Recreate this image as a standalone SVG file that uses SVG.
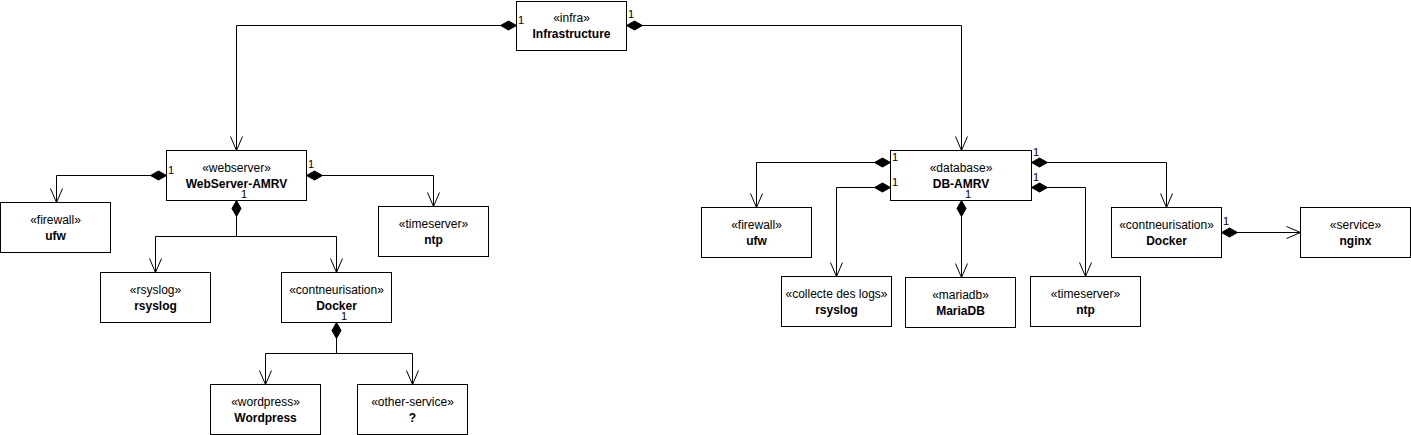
<svg xmlns="http://www.w3.org/2000/svg" width="1411" height="435" viewBox="0 0 1411 435">
<style>
.box{fill:#fff;stroke:#000;stroke-width:1}
.st{font-family:"Liberation Sans",Arial,sans-serif;font-size:12px;text-anchor:middle;fill:#000}
.nm{font-family:"Liberation Sans",Arial,sans-serif;font-size:12px;font-weight:bold;text-anchor:middle;fill:#000}
.m{font-family:"Liberation Sans",Arial,sans-serif;font-size:11px;fill:#000}
.c{fill:none;stroke:#000;stroke-width:1}
</style>
<defs>
<marker id="dia" markerUnits="userSpaceOnUse" markerWidth="20" markerHeight="12" viewBox="-1 -6 20 12" refX="0" refY="0" orient="auto" overflow="visible">
<path d="M0,0 L8,-4.5 L16,0 L8,4.5 Z" fill="#000" stroke="#000"/>
</marker>
<marker id="arr" markerUnits="userSpaceOnUse" markerWidth="20" markerHeight="16" viewBox="-16 -8 20 16" refX="0" refY="0" orient="auto" overflow="visible">
<path d="M-14,-6 L0,0 L-14,6" fill="none" stroke="#000"/>
</marker>
</defs>
<rect width="1411" height="435" fill="#fff"/>
<g id="connectors">
<path class="c" d="M516.5,25.5 H236.5 V150.5" marker-start="url(#dia)" marker-end="url(#arr)"/>
<path class="c" d="M626.5,25.5 H961.5 V150.5" marker-start="url(#dia)" marker-end="url(#arr)"/>
<path class="c" d="M166.5,175.5 H56.5 V202.5" marker-start="url(#dia)" marker-end="url(#arr)"/>
<path class="c" d="M306.5,175.5 H433.5 V206.5" marker-start="url(#dia)" marker-end="url(#arr)"/>
<path class="c" d="M236.5,200.5 V236.5 H155.5 V272.5" marker-start="url(#dia)" marker-end="url(#arr)"/>
<path class="c" d="M236.5,200.5 V236.5 H336.5 V272.5" marker-end="url(#arr)"/>
<path class="c" d="M336.5,322.5 V353.5 H265.5 V384.5" marker-start="url(#dia)" marker-end="url(#arr)"/>
<path class="c" d="M336.5,322.5 V353.5 H412.5 V384.5" marker-end="url(#arr)"/>
<path class="c" d="M890.5,162.5 H756.5 V207.5" marker-start="url(#dia)" marker-end="url(#arr)"/>
<path class="c" d="M890.5,187.5 H836.5 V276.5" marker-start="url(#dia)" marker-end="url(#arr)"/>
<path class="c" d="M961.5,200.5 V277.5" marker-start="url(#dia)" marker-end="url(#arr)"/>
<path class="c" d="M1031.5,162.5 H1166.5 V207.5" marker-start="url(#dia)" marker-end="url(#arr)"/>
<path class="c" d="M1031.5,187.5 H1085.5 V276.5" marker-start="url(#dia)" marker-end="url(#arr)"/>
<path class="c" d="M1221.5,232.5 H1300.5" marker-start="url(#dia)" marker-end="url(#arr)"/>
</g>
<g id="infra"><rect class="box" x="516.5" y="1.5" width="110" height="49"/><text class="st" x="571.5" y="22">«infra»</text><text class="nm" x="571.5" y="38">Infrastructure</text></g>
<g id="webserver"><rect class="box" x="166.5" y="150.5" width="140" height="50"/><text class="st" x="236.5" y="172">«webserver»</text><text class="nm" x="236.5" y="188">WebServer-AMRV</text></g>
<g id="ws-ufw"><rect class="box" x="0.5" y="202.5" width="110" height="50"/><text class="st" x="55.5" y="224">«firewall»</text><text class="nm" x="55.5" y="240">ufw</text></g>
<g id="ws-ntp"><rect class="box" x="378.5" y="206.5" width="110" height="50"/><text class="st" x="433.5" y="228">«timeserver»</text><text class="nm" x="433.5" y="244">ntp</text></g>
<g id="ws-rsyslog"><rect class="box" x="100.5" y="272.5" width="110" height="50"/><text class="st" x="155.5" y="294">«rsyslog»</text><text class="nm" x="155.5" y="310">rsyslog</text></g>
<g id="ws-docker"><rect class="box" x="281.5" y="272.5" width="110" height="50"/><text class="st" x="336.5" y="294">«contneurisation»</text><text class="nm" x="336.5" y="310">Docker</text></g>
<g id="wordpress"><rect class="box" x="210.5" y="384.5" width="110" height="50"/><text class="st" x="265.5" y="406">«wordpress»</text><text class="nm" x="265.5" y="422">Wordpress</text></g>
<g id="other-service"><rect class="box" x="357.5" y="384.5" width="110" height="50"/><text class="st" x="412.5" y="406">«other-service»</text><text class="nm" x="412.5" y="422">?</text></g>
<g id="database"><rect class="box" x="890.5" y="150.5" width="141" height="50"/><text class="st" x="961" y="172">«database»</text><text class="nm" x="961" y="188">DB-AMRV</text></g>
<g id="db-ufw"><rect class="box" x="701.5" y="207.5" width="110" height="50"/><text class="st" x="756.5" y="229">«firewall»</text><text class="nm" x="756.5" y="245">ufw</text></g>
<g id="db-rsyslog"><rect class="box" x="781.5" y="276.5" width="110" height="50"/><text class="st" x="836.5" y="298">«collecte des logs»</text><text class="nm" x="836.5" y="314">rsyslog</text></g>
<g id="mariadb"><rect class="box" x="905.5" y="277.5" width="110" height="50"/><text class="st" x="960.5" y="299">«mariadb»</text><text class="nm" x="960.5" y="315">MariaDB</text></g>
<g id="db-ntp"><rect class="box" x="1030.5" y="276.5" width="110" height="50"/><text class="st" x="1085.5" y="298">«timeserver»</text><text class="nm" x="1085.5" y="314">ntp</text></g>
<g id="db-docker"><rect class="box" x="1111.5" y="207.5" width="110" height="50"/><text class="st" x="1166.5" y="229">«contneurisation»</text><text class="nm" x="1166.5" y="245">Docker</text></g>
<g id="nginx"><rect class="box" x="1300.5" y="207.5" width="110" height="50"/><text class="st" x="1355.5" y="229">«service»</text><text class="nm" x="1355.5" y="245">nginx</text></g>
<g id="multiplicities">
<text class="m" x="518" y="24">1</text>
<text class="m" x="628" y="18">1</text>
<text class="m" x="168" y="174">1</text>
<text class="m" x="308" y="168">1</text>
<text class="m" x="241" y="198">1</text>
<text class="m" x="341" y="320">1</text>
<text class="m" x="892" y="161">1</text>
<text class="m" x="892" y="186">1</text>
<text class="m" x="1033" y="156">1</text>
<text class="m" x="1033" y="181">1</text>
<text class="m" x="965" y="198">1</text>
<text class="m" x="1223" y="225">1</text>
</g>
</svg>
